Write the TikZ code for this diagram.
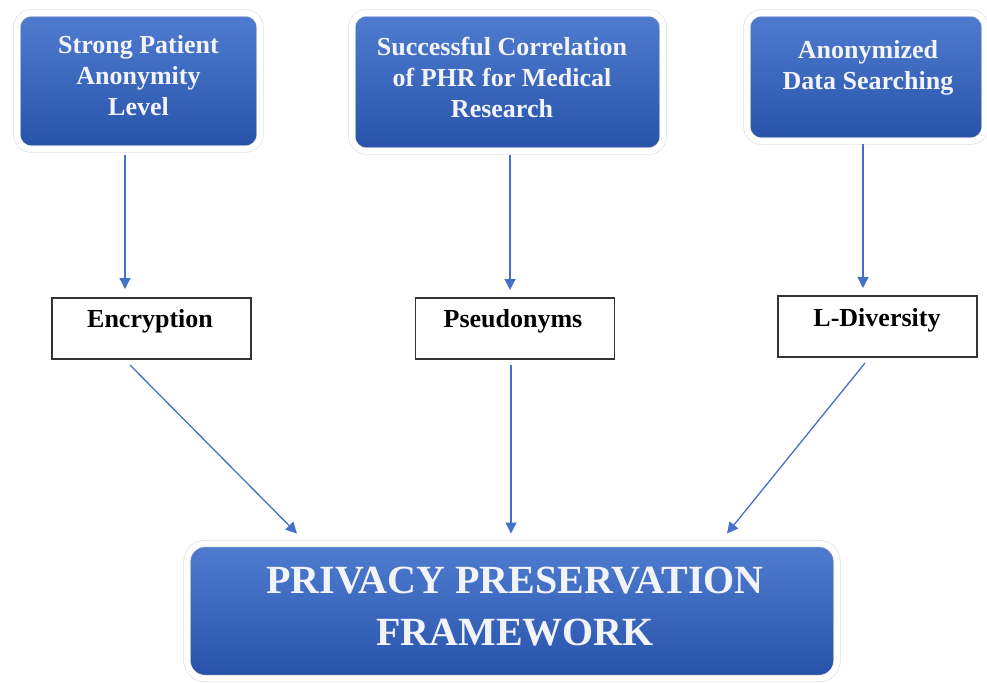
\documentclass[tikz,border=0pt]{standalone}
\usepackage{fontspec}
\setmainfont{Liberation Serif}
\usetikzlibrary{arrows.meta,shadows,calc}
\definecolor{boxtop}{RGB}{80,124,208}
\definecolor{boxbot}{RGB}{38,82,170}
\definecolor{arrowblue}{RGB}{68,114,196}
\definecolor{txtwhite}{RGB}{242,244,250}
\begin{document}
\begin{tikzpicture}[x=1pt,y=-1pt,
  bluebox/.style={rectangle, rounded corners=14pt, top color=boxtop, bottom color=boxbot,
    draw=black!14, double=white, double distance=6pt, line width=0.6pt,
    outer sep=0pt, inner sep=0pt,
    drop shadow={opacity=0.2, shadow xshift=1pt, shadow yshift=-2pt}},
  bluetext/.style={text=txtwhite, font=\bfseries\fontsize{26}{31}\selectfont, align=center},
  bigtext/.style={text=txtwhite, font=\bfseries\fontsize{40}{52}\selectfont, align=center},
  smallbox/.style={rectangle, draw=black!80, line width=1.4pt, fill=white,
    minimum width=199pt, minimum height=61pt, outer sep=0pt, inner sep=0pt},
  smalltext/.style={font=\bfseries\fontsize{26}{31}\selectfont},
  arr/.style={draw=arrowblue, line width=1.3pt, -{Triangle[length=11pt,width=11pt]}}
]
\useasboundingbox (0,0) rectangle (987,683);

% top boxes
\node[bluebox, minimum width=243pt, minimum height=136pt] (b1) at (138.5,81) {};
\node[bluetext] (b1t) at (138.5,76) {Strong Patient\\Anonymity\\Level};
\node[bluebox, minimum width=311pt, minimum height=138pt] (b2) at (507.5,82) {};
\node[bluetext] (b2t) at (502,77) {Successful Correlation\\of PHR for Medical\\Research};
\node[bluebox, minimum width=238pt, minimum height=128pt] (b3) at (866,77) {};
\node[bluetext] (b3t) at (868,68) {Anonymized\\Data Searching};

% middle boxes
\node[smallbox] (enc) at (151.5,328.5) {};
\node[smalltext] (enct) at (150,321) {Encryption};
\node[smallbox] (pse) at (515,328.5) {};
\node[smalltext] (pset) at (513,321) {Pseudonyms};
\node[smallbox] (ldv) at (877.5,326.5) {};
\node[smalltext] (ldvt) at (877,320) {L-Diversity};

% bottom box
\node[bluebox, rounded corners=18pt, minimum width=650pt, minimum height=135pt] (fw) at (512,611) {};
\node[bigtext] (fwt) at (515,607) {PRIVACY PRESERVATION\\FRAMEWORK};

% arrows top -> middle
\coordinate (a1s) at ([xshift=-13.5pt,yshift=-6pt]b1.south);
\coordinate (a1e) at (a1s |- enc.north);
\draw[arr, shorten >=9pt] (a1s) -- (a1e);
\coordinate (a2s) at ([xshift=2.5pt,yshift=-4pt]b2.south);
\coordinate (a2e) at (a2s |- pse.north);
\draw[arr, shorten >=8pt] (a2s) -- (a2e);
\coordinate (a3s) at ([xshift=-3pt,yshift=-3pt]b3.south);
\coordinate (a3e) at (a3s |- ldv.north);
\draw[arr, shorten >=8pt] (a3s) -- (a3e);

% arrows middle -> bottom
\coordinate (c1s) at ([xshift=-21.5pt,yshift=-6pt]enc.south);
\coordinate (c1e) at ([xshift=-215pt,yshift=10pt]fw.north);
\draw[arr] (c1s) -- (c1e);
\coordinate (c2s) at ([xshift=-4pt,yshift=-6pt]pse.south);
\coordinate (c2e) at (c2s |- c1e);
\draw[arr] (c2s) -- (c2e);
\coordinate (c3s) at ([xshift=-12.5pt,yshift=-6pt]ldv.south);
\coordinate (c3e) at ([xshift=215pt,yshift=10pt]fw.north);
\draw[arr] (c3s) -- (c3e);
\end{tikzpicture}
\end{document}
